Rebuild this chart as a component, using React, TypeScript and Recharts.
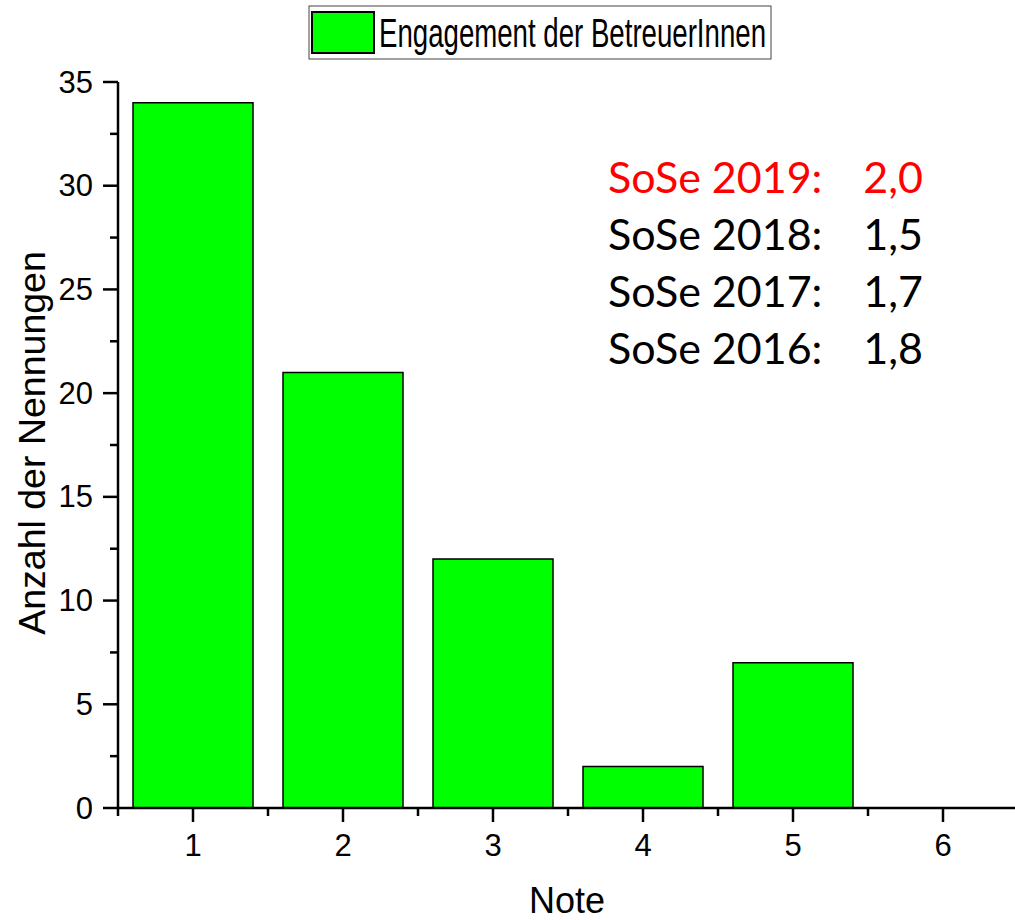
import { Bar, BarChart, XAxis, YAxis } from "recharts";

const notes = [1, 2, 3, 4, 5, 6];
const counts = [34, 21, 12, 2, 7, 0];
const seriesName = "Engagement der BetreuerInnen";

const xTicks = [0.5, 1, 1.5, 2, 2.5, 3, 3.5, 4, 4.5, 5, 5.5, 6, 6.5];
const yTicks = [0, 2.5, 5, 7.5, 10, 12.5, 15, 17.5, 20, 22.5, 25, 27.5, 30, 32.5, 35];

const semesters = ["SoSe 2019:", "SoSe 2018:", "SoSe 2017:", "SoSe 2016:"];
const grades = ["2,0", "1,5", "1,7", "1,8"];
const gradeColors = ["#ff0000", "#000000", "#000000", "#000000"];

const data = notes.map((note, i) => ({ note, count: counts[i] }));

const axisFont = "'Liberation Sans', Arial, sans-serif";

function XTick({ x, y, payload }: any) {
  const major = Number.isInteger(payload.value);
  return (
    <g>
      <line x1={x} x2={x} y1={y} y2={y + (major ? 14 : 8)} stroke="#000" strokeWidth={2.5} />
      {major && (
        <text x={x} y={y + 48} textAnchor="middle" fontSize={31} fontFamily={axisFont} fill="#000">
          {payload.value}
        </text>
      )}
    </g>
  );
}

function YTick({ x, y, payload }: any) {
  const major = payload.value % 5 === 0;
  return (
    <g>
      <line x1={x - (major ? 15 : 8)} x2={x} y1={y} y2={y} stroke="#000" strokeWidth={2.5} />
      {major && (
        <text x={x - 25} y={y} textAnchor="end" dominantBaseline="central" fontSize={31} fontFamily={axisFont} fill="#000">
          {payload.value}
        </text>
      )}
    </g>
  );
}

export default function App() {
  return (
    <div style={{ position: "absolute", left: 0, top: 0, width: 1015, height: 920, overflow: "hidden", background: "#fff" }}>
      <BarChart width={1030} height={920} data={data} margin={{ top: 82, right: 12, left: 0, bottom: 0 }}>
        <XAxis
          dataKey="note"
          type="number"
          domain={[0.5, 6.5]}
          ticks={xTicks}
          interval={0}
          height={112}
          tickSize={0}
          tickMargin={0}
          tickLine={false}
          tick={<XTick />}
          axisLine={{ stroke: "#000", strokeWidth: 2.5 }}
        />
        <YAxis
          type="number"
          domain={[0, 35]}
          ticks={yTicks}
          interval={0}
          width={118}
          tickSize={0}
          tickMargin={0}
          tickLine={false}
          tick={<YTick />}
          axisLine={{ stroke: "#000", strokeWidth: 2.5 }}
        />
        <Bar
          dataKey="count"
          name={seriesName}
          fill="#00ff00"
          stroke="#000"
          strokeWidth={1.5}
          barSize={120}
          isAnimationActive={false}
        />

        <text x={567} y={913} textAnchor="middle" fontSize={36} fontFamily={axisFont} fill="#000">
          Note
        </text>
        <text
          x={45}
          y={443}
          transform="rotate(-90 45 443)"
          textAnchor="middle"
          fontSize={37.5}
          fontFamily={axisFont}
          fill="#000"
        >
          Anzahl der Nennungen
        </text>

        <g>
          <rect x={309} y={6} width={462} height={53} fill="#fff" stroke="#444" strokeWidth={1} />
          <rect x={312} y={12} width={62} height={41} fill="#00ff00" stroke="#000" strokeWidth={2} />
          <text
            x={379}
            y={47}
            fontSize={41}
            fontFamily={axisFont}
            fill="#000"
            textLength={387}
            lengthAdjust="spacingAndGlyphs"
          >
            {seriesName}
          </text>
        </g>

        <g fontFamily="Lato, 'Open Sans', sans-serif" fontSize={43}>
          {semesters.map((s, i) => (
            <g key={s} fill={gradeColors[i]}>
              <text x={608} y={193 + i * 57}>{s}</text>
              <text x={923} y={193 + i * 57} textAnchor="end">
                {grades[i]}
              </text>
            </g>
          ))}
        </g>
      </BarChart>
    </div>
  );
}
